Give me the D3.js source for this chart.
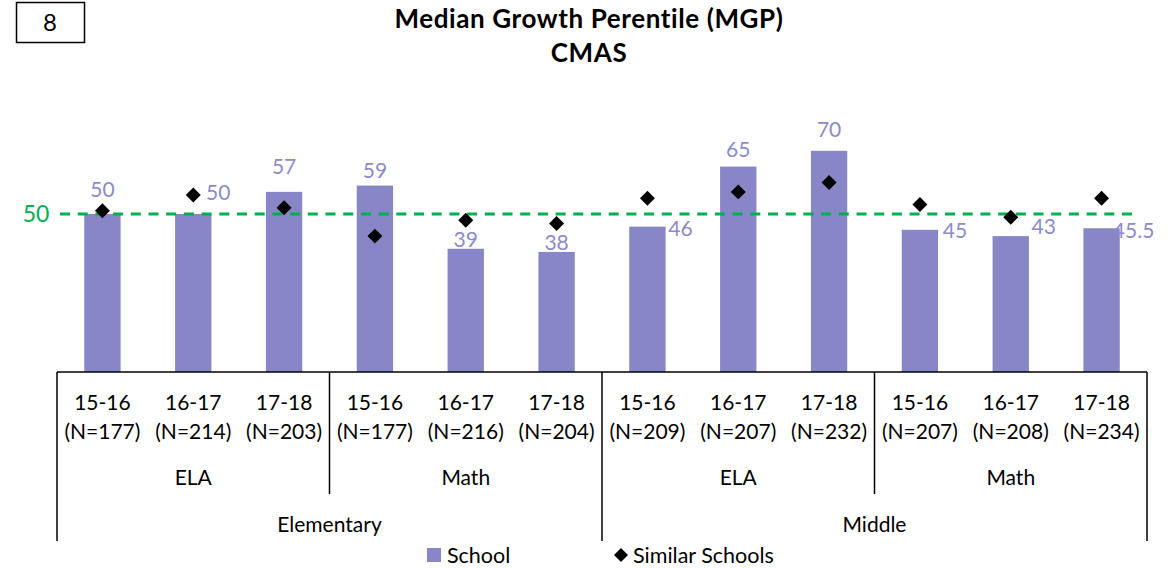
<!DOCTYPE html>
<html>
<head>
<meta charset="utf-8">
<script src="https://cdnjs.cloudflare.com/ajax/libs/d3/7.8.5/d3.min.js"></script>
<style>
  body { margin: 0; background: #fff; }
  svg { display: block; font-family: Lato, "Open Sans", sans-serif; }
</style>
</head>
<body>
<svg id="chart" width="1175" height="568"></svg>
<script>
// data
var years = ["15-16", "16-17", "17-18", "15-16", "16-17", "17-18",
             "15-16", "16-17", "17-18", "15-16", "16-17", "17-18"];
var nCounts = [177, 214, 203, 177, 216, 204, 209, 207, 232, 207, 208, 234];
var subjects = ["ELA", "Math", "ELA", "Math"];
var levels = ["Elementary", "Middle"];
var school = [50, 50, 57, 59, 39, 38, 46, 65, 70, 45, 43, 45.5];
var similar = [51, 56, 52, 43, 48, 47, 55, 57, 60, 53, 49, 55];
var benchmark = 50;

// label nudges (px from bar top), the way they sit in the original
var labelNudge = [[0, -24], [25, -21], [0, -25], [0, -15], [0, -9], [0, -9],
                  [33, 2], [0, -17], [0, -21], [35, 1], [33, -9], [32, 2]];

var barColor = "#8786c6";
var labelColor = "#8b8bcb";
var green = "#00b050";
var axisFont = "21px";

var svg = d3.select("#chart");

var x = d3.scaleBand()
    .domain(d3.range(school.length))
    .range([57, 1147])
    .paddingInner(0.6)
    .paddingOuter(0.3);

var y = d3.scaleLinear()
    .domain([0, 100])
    .range([372, 56]);

// box with page number
svg.append("rect")
    .attr("x", 16.5).attr("y", 2.5)
    .attr("width", 68).attr("height", 40)
    .attr("fill", "none").attr("stroke", "#000").attr("stroke-width", 1.5);
svg.append("text")
    .attr("x", 50).attr("y", 23).attr("dy", "0.35em")
    .attr("text-anchor", "middle")
    .style("font-size", "24px")
    .text("8");

// title
var title = svg.append("text")
    .attr("text-anchor", "middle")
    .style("font-size", "26px")
    .style("letter-spacing", "0.6px")
    .style("font-weight", "bold");
title.append("tspan").attr("x", 589).attr("y", 28).text("Median Growth Perentile (MGP)");
title.append("tspan").attr("x", 589).attr("y", 62).text("CMAS");

// bars
svg.append("g")
    .selectAll("rect")
    .data(school)
    .enter()
    .append("rect")
    .attr("x", function(d, i){ return x(i); })
    .attr("y", function(d){ return y(d); })
    .attr("width", x.bandwidth())
    .attr("height", function(d){ return y(0) - y(d); })
    .attr("fill", barColor);

// benchmark line
svg.append("line")
    .attr("x1", 60).attr("x2", 1135)
    .attr("y1", y(benchmark)).attr("y2", y(benchmark))
    .attr("stroke", green)
    .attr("stroke-width", 3)
    .attr("stroke-dasharray", "10,7.7");
svg.append("text")
    .attr("x", 36).attr("y", y(benchmark)).attr("dy", "0.35em")
    .attr("text-anchor", "middle")
    .attr("fill", green)
    .style("font-size", "23px")
    .text(benchmark);

// similar schools diamonds
var diamond = d3.symbol().type(d3.symbolDiamond2).size(143);
svg.append("g")
    .selectAll("path")
    .data(similar)
    .enter()
    .append("path")
    .attr("d", diamond)
    .attr("transform", function(d, i){
        return "translate(" + (x(i) + x.bandwidth() / 2) + "," + y(d) + ")";
    })
    .attr("fill", "#000");

// data labels
svg.append("g")
    .selectAll("text")
    .data(school)
    .enter()
    .append("text")
    .attr("x", function(d, i){ return x(i) + x.bandwidth() / 2 + labelNudge[i][0]; })
    .attr("y", function(d, i){ return y(d) + labelNudge[i][1]; })
    .attr("dy", "0.35em")
    .attr("text-anchor", "middle")
    .attr("fill", labelColor)
    .style("font-size", "21px")
    .text(function(d){ return d; });

// category axis, first level through d3 axis
var axis = svg.append("g")
    .attr("transform", "translate(0," + y(0) + ")")
    .call(d3.axisBottom(x).tickSize(0).tickPadding(0).tickFormat(function(i){ return years[i]; }));
axis.select(".domain").remove();
axis.selectAll(".tick text")
    .attr("fill", "#000")
    .style("font-family", "Lato, sans-serif")
    .style("font-size", axisFont)
    .attr("y", 31)
    .attr("dy", "0.35em");
axis.selectAll(".tick")
    .append("text")
    .attr("fill", "#000")
    .style("font-family", "Lato, sans-serif")
    .style("font-size", axisFont)
    .attr("y", 60)
    .attr("dy", "0.35em")
    .text(function(i){ return "(N=" + nCounts[i] + ")"; });

var step = x.step();
var left = x.range()[0];
var lines = svg.append("g").attr("stroke", "#000").attr("stroke-width", 1.5);

lines.append("line")
    .attr("x1", left).attr("x2", x.range()[1])
    .attr("y1", y(0)).attr("y2", y(0));

// subject groups (3 bars each)
subjects.forEach(function(s, k){
    var x0 = left + k * 3 * step;
    var x1 = x0 + 3 * step;
    svg.append("text")
        .attr("x", (x0 + x1) / 2).attr("y", 478).attr("dy", "0.35em")
        .attr("text-anchor", "middle")
        .style("font-size", axisFont)
        .text(s);
    if (k % 2 === 1) {
        lines.append("line")
            .attr("x1", x0).attr("x2", x0)
            .attr("y1", y(0)).attr("y2", 494);
    }
});

// level groups (6 bars each)
levels.forEach(function(l, k){
    var x0 = left + k * 6 * step;
    var x1 = x0 + 6 * step;
    svg.append("text")
        .attr("x", (x0 + x1) / 2).attr("y", 525).attr("dy", "0.35em")
        .attr("text-anchor", "middle")
        .style("font-size", axisFont)
        .text(l);
    lines.append("line")
        .attr("x1", x0).attr("x2", x0)
        .attr("y1", y(0)).attr("y2", 541);
    if (k === levels.length - 1) {
        lines.append("line")
            .attr("x1", x1).attr("x2", x1)
            .attr("y1", y(0)).attr("y2", 541);
    }
});

// legend
var legend = svg.append("g").style("font-size", "21.5px");
legend.append("rect")
    .attr("x", 427).attr("y", 548)
    .attr("width", 14).attr("height", 14)
    .attr("fill", barColor);
legend.append("text")
    .attr("x", 447).attr("y", 555).attr("dy", "0.35em")
    .text("School");
legend.append("path")
    .attr("d", d3.symbol().type(d3.symbolDiamond2).size(125))
    .attr("transform", "translate(621,555)")
    .attr("fill", "#000");
legend.append("text")
    .attr("x", 633).attr("y", 555).attr("dy", "0.35em")
    .text("Similar Schools");
</script>
</body>
</html>
